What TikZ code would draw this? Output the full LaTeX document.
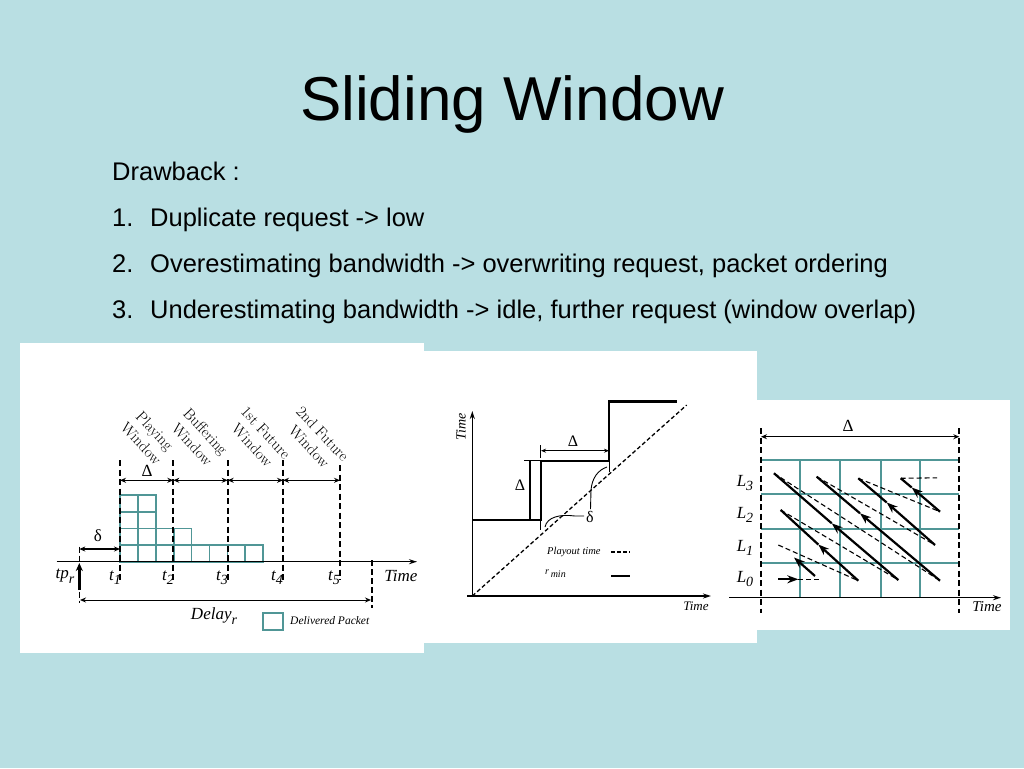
\documentclass[tikz,border=0pt]{standalone}
\usepackage{fontspec}
\newfontfamily\arial{Liberation Sans}
\newfontfamily\tnr{Liberation Serif}
\usetikzlibrary{arrows.meta}
\definecolor{bg}{RGB}{185,223,227}
\definecolor{gridc}{RGB}{80,150,150}
\newcommand{\lsub}[2][-4pt]{\raisebox{#1}{\fontsize{14}{14}\selectfont #2}}
\begin{document}
\begin{tikzpicture}[x=1pt,y=-1pt,
  slide/.style={font=\arial\fontsize{25.5}{30}\selectfont, anchor=base west, inner sep=0},
  panel/.style={fill=white, draw=none},
  dashv/.style={line width=2.2pt, dash pattern=on 6pt off 3.5pt},
  dimarr/.style={line width=1.2pt, {Stealth[length=6pt,width=5pt]}-{Stealth[length=6pt,width=5pt]}},
  cell/.style={draw=gridc, line width=1.7pt},
  lbl/.style={font=\tnr\itshape\fontsize{17}{20}\selectfont, inner sep=0},
  rot/.style={font=\fontsize{15.5}{18.5}\selectfont, rotate=-47, align=center, inner sep=0},
  greek/.style={font=\tnr\fontsize{17}{20}\selectfont, inner sep=0},
  ax/.style={line width=1.5pt, -{Stealth[length=8pt,width=5pt]}},
  stair/.style={line width=2pt},
  sol/.style={line width=2.2pt},
  solarr/.style={line width=2.2pt, -{Stealth[length=11pt,width=8pt]}},
  dsh/.style={line width=1.1pt, dash pattern=on 5pt off 3pt}
]
\useasboundingbox (0,0) rectangle (1024,768);
\fill[bg] (0,0) rectangle (1024,768);

% ---- slide text
\node[font=\arial\fontsize{62}{70}\selectfont, anchor=base, inner sep=0] (title) at (512,120) {Sliding Window};
\node[slide] (dr) at (112,180) {Drawback :};
\node[slide] (n1) at (112,226) {1.};
\node[slide] (i1) at (150,226) {Duplicate request -> low};
\node[slide] (n2) at (112,272) {2.};
\node[slide] (i2) at (150,272) {Overestimating bandwidth -> overwriting request, packet ordering};
\node[slide] (n3) at (112,318) {3.};
\node[slide] (i3) at (150,318) {Underestimating bandwidth -> idle, further request (window overlap)};

% ---- panels
\fill[panel] (20,343) rectangle (424,653);
\fill[panel] (424,351) rectangle (757,643);
\fill[panel] (757,400) rectangle (1010,630);

% ================= left figure
\foreach \c/\h in {0/4,1/4,2/2,3/2,4/1,5/1,6/1,7/1}{
  \foreach \r in {1,...,\h}{
    \draw[cell] ({120+\c*17.9},{561.7-\r*16.6}) rectangle ({120+(\c+1)*17.9},{561.7-(\r-1)*16.6});
  }
}
\draw[ax] (56.7,561.7) -- (417,561.7);
\coordinate (w1) at (120,480.3);
\coordinate (w2) at (173.3,480.3);
\coordinate (w3) at (227.7,480.3);
\coordinate (w4) at (283,480.3);
\coordinate (w5) at (340,480.3);
\draw[dashv] (120,460) -- (120,580);
\draw[dashv] (173.3,460) -- (173.3,580);
\draw[dashv] (227.7,460) -- (227.7,580);
\draw[dashv] (283,460) -- (283,580);
\draw[dashv] (340,465) -- (340,580);
\draw[dimarr] (w1) -- (w2);
\draw[dimarr] (w2) -- (w3);
\draw[dimarr] (w3) -- (w4);
\draw[dimarr] (w4) -- (w5);
\node[greek] (dl1) at (147,471) {Δ};
\node[rot] (pw) at (148,437) {Playing\\Window};
\node[rot] (bw) at (199,438) {Buffering\\Window};
\node[rot] (fw1) at (259,439) {1st Future\\Window};
\node[rot] (fw2) at (316,440) {2nd Future\\Window};
\coordinate (tp) at (79.3,549);
\coordinate (tpa) at (79.3,590);
\coordinate (tpb) at (79.3,563);
\draw[line width=1.3pt, dash pattern=on 6pt off 3pt] (79.3,546.7) -- (79.3,602.7);
\draw[dimarr] (tp) -- (120,549);
\draw[line width=2.4pt, -{Stealth[length=8pt,width=7pt]}] (tpa) -- (tpb);
\node[greek] (sd) at (98,536) {δ};
\node[lbl] (tpr) at (65,576) {tp\lsub[-5pt]{r}};
\node[lbl] (t1) at (115,578) {t\lsub{1}};
\node[lbl] (t2) at (168,578) {t\lsub{2}};
\node[lbl] (t3) at (222,578) {t\lsub{3}};
\node[lbl] (t4) at (277,578) {t\lsub{4}};
\node[lbl] (t5) at (334,578) {t\lsub{5}};
\node[lbl] (tm1) at (401,576) {Time};
\coordinate (dA) at (80,600);
\coordinate (dB) at (371,600);
\draw[line width=1.3pt, dash pattern=on 6pt off 3pt] (372,560) -- (372,608);
\draw[dimarr, line width=1pt] (dA) -- (dB);
\node[lbl] (dly) at (214,616) {Delay\lsub[-5pt]{r}};
\draw[cell, line width=2pt] (263,613) rectangle (283,630);
\node[font=\tnr\itshape\fontsize{11.5}{13}\selectfont, anchor=west, inner sep=0] (dp) at (290,621) {Delivered Packet};

% ================= middle figure
\coordinate (o) at (472.3,596);
\draw[ax] (o) -- (472.3,411);
\draw[ax] (467,596) -- (711,596);
\node[font=\tnr\itshape\fontsize{14}{16}\selectfont, rotate=90, inner sep=0] (ty) at (461,427) {Time};
\node[font=\tnr\itshape\fontsize{13}{15}\selectfont, inner sep=0] (tx) at (696,606) {Time};
\draw[line width=1.3pt, dash pattern=on 4pt off 2.5pt] (o) -- (686.7,405);
\draw[stair] (472.3,520) -- (540.7,520) -- (540.7,460.7) -- (609.3,460.7) -- (609.3,401.7);
\draw[line width=3.2pt] (608.3,401.7) -- (677,401.7);
\draw[line width=0.8pt] (540.7,520) -- (540.7,530);
\draw[line width=0.8pt] (609.3,460.7) -- (609.3,472);
\draw[line width=0.8pt] (540.7,445) -- (540.7,458);
\draw[line width=0.8pt] (524,460.7) -- (540,460.7);
\draw[line width=0.9pt, {Stealth[length=5pt,width=4pt]}-{Stealth[length=5pt,width=4pt]}] (541,450.7) -- (609,450.7);
\draw[line width=1.3pt] (530,461) -- (530,520);
\node[greek, font=\tnr\fontsize{16}{18}\selectfont] (dm1) at (573,441) {Δ};
\node[greek, font=\tnr\fontsize{16}{18}\selectfont] (dm2) at (520,485) {Δ};
\node[greek, font=\tnr\fontsize{16}{18}\selectfont] (dm3) at (590,517) {δ};
\draw[line width=0.9pt] (584,516) -- (575,516) .. controls (560,514) and (547,517) .. (545,527);
\draw[line width=0.9pt] (590.5,509) -- (591,490) .. controls (592,478) and (598,470) .. (607,467);
\node[font=\tnr\itshape\fontsize{10.5}{12}\selectfont, anchor=west, inner sep=0] (pt) at (547,552) {Playout time};
\draw[line width=1.8pt, dash pattern=on 4pt off 2pt] (611,552) -- (630,552);
\node[font=\tnr\itshape\fontsize{10}{12}\selectfont, anchor=west, inner sep=0] (rm) at (545,574) {\raisebox{3pt}{r}\,min};
\draw[line width=2.4pt] (611,576) -- (630,576);
\node[lbl] (L3) at (745,483) {L\lsub{3}};
\node[lbl] (L2) at (745,515) {L\lsub{2}};
\node[lbl] (L1) at (745,548) {L\lsub{1}};
\node[lbl] (L0) at (745,579) {L\lsub{0}};

% ================= right figure
\foreach \yy in {460,494.3,529,562.7}{\draw[cell, line width=2pt] (761,\yy) -- (959.3,\yy);}
\foreach \xx in {800.3,840.3,881,920.3}{\draw[cell, line width=2pt] (\xx,460) -- (\xx,597.7);}
\draw[ax] (729,597.7) -- (1001,597.7);
\draw[dashv, line width=1.8pt] (761,428) -- (761,613);
\draw[dashv, line width=1.8pt] (959.3,428) -- (959.3,613);
\draw[dimarr] (761,436.7) -- (959.3,436.7);
\node[greek] (dr1) at (848,426) {Δ};
\node[font=\tnr\itshape\fontsize{15}{17}\selectfont, inner sep=0] (tr) at (987,607) {Time};
\coordinate (Aa) at (898.3,580);   \coordinate (Am) at (831.7,523.3); \coordinate (Ab) at (774,473.3);
\coordinate (Ba) at (858.3,580.7); \coordinate (Bm) at (818.3,544.5); \coordinate (Bb) at (780.7,510);
\coordinate (Ca) at (940,580.7);   \coordinate (Cm) at (860,513.3);   \coordinate (Cb) at (816.7,476.7);
\coordinate (Da) at (935,545);     \coordinate (Dm) at (886.7,502.5); \coordinate (Db) at (858.3,478.3);
\coordinate (Ea) at (940,511.7);   \coordinate (Em) at (911.7,487.5); \coordinate (Eb) at (900.7,478.3);
\coordinate (Fa) at (815,576);     \coordinate (Fm) at (794,557.5);   \coordinate (Fb) at (778.3,545);
\coordinate (Ga) at (778.3,579.3); \coordinate (Gm) at (798.3,579.3); \coordinate (Gb) at (821.7,579.3);
\coordinate (Ee) at (937,477.8);
\draw[dsh] (Eb) -- (Ee);
\draw[dsh] (Db) -- (Ea);
\draw[dsh] (Cb) -- (Da);
\draw[dsh] (Ab) -- (Ca);
\draw[dsh] (Bb) -- (Aa);
\draw[dsh] (Fb) -- (Ba);
\draw[dsh] (Gm) -- (Gb);
\foreach \p in {A,B,C,D,E}{
  \draw[solarr] (\p a) -- (\p m);
  \draw[sol] (\p m) -- (\p b);
}
\draw[solarr] (Fa) -- (Fm);
\draw[solarr] (Ga) -- (Gm);
\end{tikzpicture}
\end{document}
